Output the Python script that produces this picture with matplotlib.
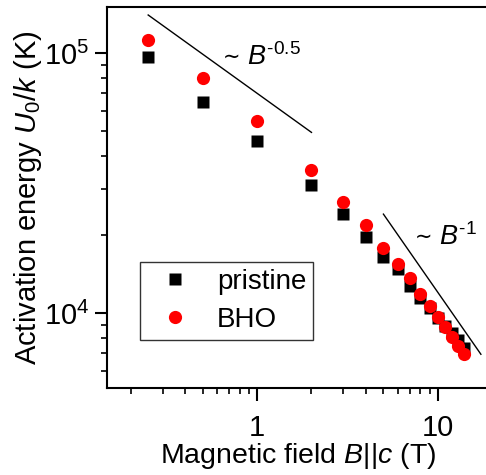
import matplotlib
matplotlib.use("Agg")
import matplotlib.pyplot as plt
import matplotlib.transforms as mtransforms
import numpy as np
from matplotlib.ticker import LogLocator, NullFormatter

plt.rcParams["font.family"] = ["Liberation Sans", "DejaVu Sans"]
plt.rcParams["mathtext.fontset"] = "custom"
plt.rcParams["mathtext.rm"] = "Liberation Sans"
plt.rcParams["mathtext.it"] = "Liberation Sans:italic"
plt.rcParams["mathtext.default"] = "regular"

# field values (T)
field = [0.25, 0.5, 1, 2, 3, 4, 5, 6, 7, 8, 9, 10, 11, 12, 13, 14]
# activation energy U0/k (K)
pristine = [96500, 64800, 45900, 31000, 24000, 19600, 16400, 14750,
            12700, 11400, 10450, 9570, 8920, 8370, 7870, 7330]
bho = [112200, 80100, 54700, 35500, 26700, 21800, 17800, 15400,
       13600, 11800, 10650, 9660, 8840, 8080, 7470, 6950]

# guide lines
guide1_x = [0.25, 2.0]
guide1_y0 = 140000      # value at B = 0.25, slope -0.5
guide2_x = [5.0, 17.3]
guide2_y0 = 24000       # value at B = 5, slope -1

# scaling labels: (x, baseline y, exponent)
scal_x = [0.649, 7.46]
scal_y = [89900, 18270]
scal_exp = ["-0.5", "-1"]

fig = plt.figure(figsize=(4.86, 4.75), dpi=100)
ax = fig.add_axes([0.2202, 0.1832, 1.008 - 0.2202, 0.9853 - 0.1832])

ax.plot(field, pristine, "s", color="black", ms=8, mec="none", label="pristine")
ax.plot(field, bho, "o", color="red", ms=9.5, mec="none", label="BHO")

g1 = np.array(guide1_x)
ax.plot(g1, guide1_y0 * (g1 / g1[0]) ** -0.5, color="black", lw=1)
g2 = np.array(guide2_x)
ax.plot(g2, guide2_y0 * (g2 / g2[0]) ** -1.0, color="black", lw=1)

for x, y, e in zip(scal_x, scal_y, scal_exp):
    tr0 = mtransforms.offset_copy(ax.transData, fig=fig, x=0, y=1.5,
                                  units="points")
    ax.text(x, y, "\u223c", fontsize=15, va="baseline",
            family=["DejaVu Sans"], transform=tr0)
    tr = mtransforms.offset_copy(ax.transData, fig=fig, x=17.5, y=0,
                                 units="points")
    ax.text(x, y, r"$\mathit{B}^{\text{%s}}$" % e, fontsize=19.5,
            va="baseline", transform=tr)

ax.set_xscale("log")
ax.set_yscale("log")
ax.set_xlim(0.148, 19.4)
ax.set_ylim(5146, 150300)

ax.xaxis.set_minor_locator(LogLocator(base=10, subs=np.arange(2, 10)))
ax.yaxis.set_minor_locator(LogLocator(base=10, subs=np.arange(2, 10)))
ax.xaxis.set_minor_formatter(NullFormatter())
ax.yaxis.set_minor_formatter(NullFormatter())
ax.set_xticks([1, 10])
ax.set_xticklabels(["1", "10"])

for s in ax.spines.values():
    s.set_linewidth(1.5)
ax.tick_params(which="major", direction="out", length=9, width=1.5,
               labelsize=21, pad=4)
ax.tick_params(which="minor", direction="out", length=4.5, width=1.2)
ax.tick_params(axis="x", which="major", pad=9.5)

ax.set_xlabel(r"Magnetic field $\mathit{B}$||$\mathit{c}$ (T)", fontsize=20.5,
              labelpad=-0.5)
ax.set_ylabel(r"Activation energy $\mathit{U}_0/\mathit{k}$ (K)", fontsize=21,
              labelpad=0)

leg = ax.legend(loc="upper left", bbox_to_anchor=(0.087, 0.33),
                fontsize=20, frameon=True, fancybox=False, borderpad=0.25,
                handletextpad=0.5, labelspacing=0.42, handlelength=2.0,
                borderaxespad=0)
leg.get_frame().set_edgecolor("black")
leg.get_frame().set_linewidth(1.0)

fig.savefig("out.png", dpi=100)
